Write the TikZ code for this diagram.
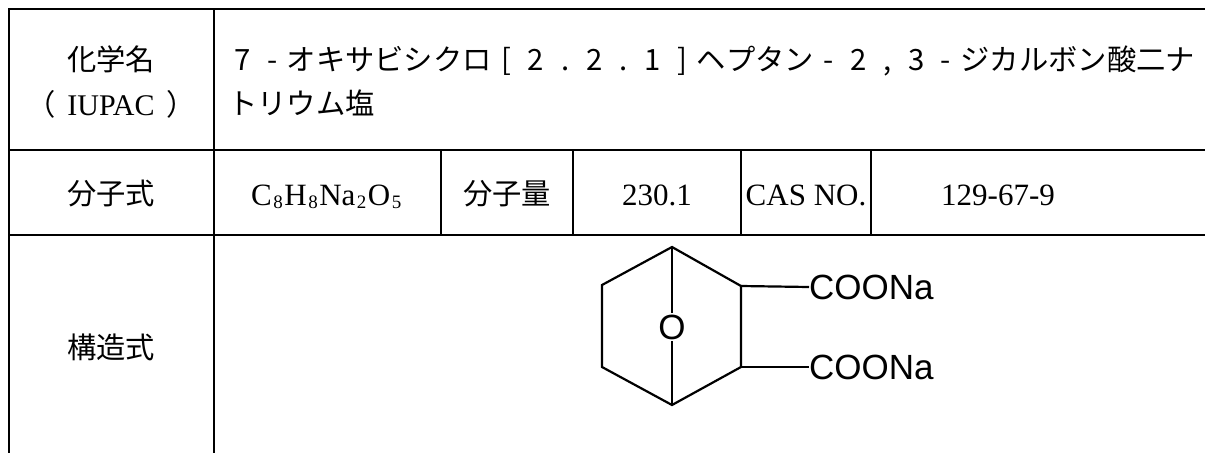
\documentclass[tikz,border=0pt]{standalone}
\usepackage{fontspec}
\setmainfont{Liberation Serif}
\newfontfamily\jpfont{Noto Sans CJK JP}
\newfontfamily\chemfont{Liberation Sans}
\newcommand\fw[1]{\makebox[1em][c]{#1}}
\newcommand\chemsub[1]{\kern1.5pt\raisebox{-3pt}{\fontsize{19}{19}\selectfont #1}\kern1.5pt}
\begin{document}
\begin{tikzpicture}[x=1pt,y=-1pt,
  tbl/.style={line width=2.6pt},
  jp/.style={font=\jpfont\fontsize{29.3}{35}\selectfont, inner sep=0pt, anchor=base},
  lat/.style={font=\fontsize{31}{36}\selectfont, inner sep=0pt, anchor=base},
  bond/.style={line width=2.2pt, line join=miter},
  chem/.style={font=\chemfont\fontsize{35}{40}\selectfont, inner sep=0pt}]
\useasboundingbox (0,0) rectangle (1205,453);
\fill[white] (0,0) rectangle (1205,453);
% grid coordinates
\coordinate (tl) at (9,9);
\coordinate (tr) at (1205,9);
\coordinate (bl) at (9,453);
\coordinate (c1t) at (214,9);
\coordinate (c1b) at (214,453);
\coordinate (r1l) at (9,150);
\coordinate (r1r) at (1205,150);
\coordinate (r2l) at (9,235);
\coordinate (r2r) at (1205,235);
\coordinate (d1t) at (441,150); \coordinate (d1b) at (441,235);
\coordinate (d2t) at (573,150); \coordinate (d2b) at (573,235);
\coordinate (d3t) at (741,150); \coordinate (d3b) at (741,235);
\coordinate (d4t) at (871,150); \coordinate (d4b) at (871,235);
% table lines
\draw[tbl] (tr) -- (tl) -- (bl);
\draw[tbl] (c1t) -- (c1b);
\draw[tbl] (r1l) -- (r1r);
\draw[tbl] (r2l) -- (r2r);
\draw[tbl] (d1t) -- (d1b);
\draw[tbl] (d2t) -- (d2b);
\draw[tbl] (d3t) -- (d3b);
\draw[tbl] (d4t) -- (d4b);
% row 1
\node[jp] (lab1) at (111,70) {化学名};
\node[jp] (lab1b) at (111,115) {（\hspace{12pt}{\rmfamily\fontsize{30}{36}\selectfont IUPAC}\hspace{12pt}）};
\node[jp, anchor=base west] (name1) at (228,70) {\fw{7}\fw{-}オキサビシクロ\fw{[}\fw{2}\fw{.}\fw{2}\fw{.}\fw{1}\fw{]}ヘプタン\fw{-}\fw{2}\fw{,}\fw{3}\fw{-}ジカルボン酸二ナ};
\node[jp, anchor=base west] (name2) at (228,114) {トリウム塩};
% row 2
\node[jp] (lab2) at (111,204) {分子式};
\node[lat] (formula) at (327,205) {C\chemsub{8}H\chemsub{8}Na\chemsub{2}O\chemsub{5}};
\node[jp] (lab3) at (507,204) {分子量};
\node[lat] (mw) at (657,205) {230.1};
\node[lat] (cas) at (806,205) {CAS NO.};
\node[lat] (casno) at (998,205) {129-67-9};
% row 3
\node[jp] (lab4) at (111,358) {構造式};
% structure
\coordinate (a) at (672,247);
\coordinate (b) at (602,285);
\coordinate (c) at (602,367);
\coordinate (d) at (672,405);
\coordinate (e) at (741,367);
\coordinate (f) at (741,286);
\node[chem, inner sep=1.5pt] (ox) at (672,327) {O};
\node[chem, anchor=west] (na1) at (809,287) {COONa};
\node[chem, anchor=west] (na2) at (809,367) {COONa};
\draw[bond] (a) -- (b) -- (c) -- (d) -- (e) -- (f) -- cycle;
\draw[bond] (a) -- (ox);
\draw[bond] (ox) -- (d);
\draw[bond] (f) -- (na1.west);
\draw[bond] (e) -- (na2.west);
\end{tikzpicture}
\end{document}
